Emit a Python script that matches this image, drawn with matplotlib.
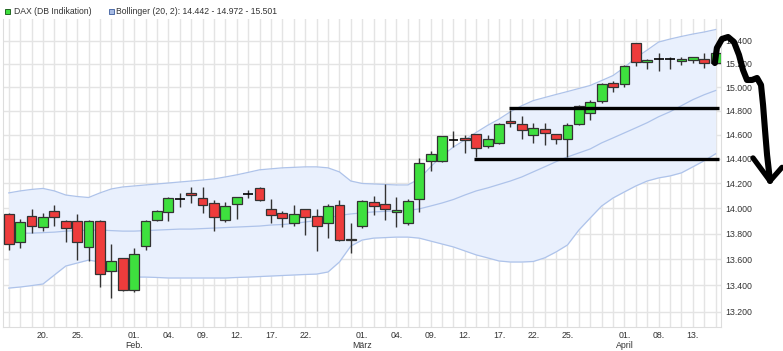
import matplotlib
matplotlib.use("Agg")
import matplotlib.pyplot as plt
import matplotlib.ticker as mticker
from matplotlib.patches import Rectangle
import numpy as np

plt.rcParams['font.family'] = ['Liberation Sans', 'DejaVu Sans']

# daily candles, 15.01. - 15.04.
opens = [13957, 13737, 13943, 13855, 13977, 13900, 13900, 13697, 13900, 13512,
         13607, 13364, 13703, 13908, 13970, 14072, 14125, 14080, 14045, 13908,
         14035, 14115, 14160, 13998, 13966, 13882, 13995, 13940, 13887, 14024,
         13761, 13861, 14048, 14035, 13970, 13884, 14075, 14386, 14386, 14556,
         14569, 14606, 14506, 14529, 14716, 14690, 14594, 14647, 14606, 14565,
         14690, 14782, 14880, 15040, 15027, 15380, 15216, 15242, 15242, 15222,
         15234, 15242, 15205]
highs = [13962, 13913, 13994, 13966, 14027, 13905, 13957, 13905, 13905, 13718,
         13610, 13685, 13905, 13987, 14093, 14120, 14168, 14168, 14064, 14053,
         14095, 14147, 14175, 14072, 13982, 14027, 13998, 13998, 14035, 14067,
         13882, 14067, 14096, 14196, 14093, 14075, 14410, 14467, 14590, 14633,
         14597, 14606, 14600, 14695, 14807, 14756, 14700, 14700, 14606, 14695,
         14849, 14891, 15040, 15053, 15192, 15385, 15242, 15293, 15259, 15259,
         15264, 15299, 15310]
lows = [13672, 13690, 13802, 13821, 13861, 13737, 13594, 13589, 13390, 13305,
        13360, 13351, 13672, 13903, 13903, 14009, 14041, 13962, 13823, 13895,
        13913, 14080, 14059, 13882, 13850, 13861, 13793, 13664, 13768, 13742,
        13646, 13842, 13948, 13908, 13855, 13870, 13974, 14303, 14378, 14495,
        14445, 14414, 14489, 14521, 14660, 14565, 14535, 14514, 14521, 14418,
        14682, 14723, 14869, 14961, 15000, 15184, 15154, 15142, 15154, 15192,
        15205, 15163, 15200]
closes = [13718, 13890, 13863, 13932, 13930, 13842, 13732, 13900, 13484, 13589,
          13364, 13639, 13900, 13979, 14080, 14072, 14107, 14027, 13928, 14019,
          14090, 14115, 14064, 13945, 13922, 13954, 13935, 13861, 14019, 13748,
          13748, 14059, 14019, 13993, 13987, 14061, 14365, 14440, 14585, 14556,
          14556, 14489, 14561, 14690, 14695, 14635, 14655, 14611, 14565, 14677,
          14841, 14875, 15027, 15006, 15184, 15216, 15230, 15242, 15242, 15242,
          15259, 15205, 15293]

# Bollinger (20, 2)
bb_upper = [14124, 14140, 14152, 14160, 14140, 14107, 14095, 14087, 14124, 14156,
            14172, 14180, 14188, 14196, 14204, 14212, 14220, 14228, 14237, 14253,
            14270, 14290, 14311, 14319, 14327, 14331, 14335, 14335, 14327, 14294,
            14220, 14200, 14196, 14192, 14188, 14188, 14237, 14335, 14425, 14498,
            14556, 14619, 14678, 14730, 14792, 14843, 14886, 14912, 14938, 14963,
            14989, 15015, 15057, 15100, 15170, 15254, 15321, 15391, 15417, 15440,
            15461, 15479, 15501]
bb_mid = [13804, 13804, 13804, 13808, 13812, 13820, 13824, 13828, 13828, 13824,
          13820, 13820, 13824, 13828, 13832, 13836, 13836, 13840, 13844, 13848,
          13852, 13856, 13860, 13868, 13872, 13880, 13892, 13904, 13924, 13944,
          13956, 13964, 13972, 13976, 13980, 13984, 13996, 14019, 14043, 14071,
          14107, 14140, 14164, 14192, 14220, 14253, 14294, 14335, 14377, 14416,
          14449, 14482, 14532, 14573, 14615, 14657, 14700, 14750, 14792, 14843,
          14894, 14936, 14972]
bb_lower = [13379, 13387, 13398, 13410, 13479, 13548, 13571, 13594, 13579, 13533,
            13486, 13463, 13463, 13460, 13456, 13456, 13456, 13456, 13456, 13456,
            13460, 13463, 13467, 13471, 13475, 13479, 13483, 13486, 13502, 13579,
            13703, 13750, 13765, 13769, 13773, 13773, 13765, 13742, 13719, 13696,
            13665, 13634, 13611, 13587, 13579, 13579, 13583, 13611, 13657, 13711,
            13828, 13924, 14019, 14083, 14132, 14180, 14220, 14245, 14261, 14286,
            14335, 14385, 14442]

tick_pos = [3, 6, 11, 14, 17, 20, 23, 26, 31, 34, 37, 40, 43, 46, 49, 54, 57, 60]
tick_labels = ['20.', '25.', '01.\nFeb.', '04.', '09.', '12.', '17.', '22.',
               '01.\nMärz', '04.', '09.', '12.', '17.', '22.', '25.',
               '01.\nApril', '08.', '13.']
y_ticks = list(range(13200, 15401, 200))

# drawn-in support / resistance lines and the scribbled arrow
lines_level = [14820, 14400]
lines_start = [43.9, 40.8]
arrow_x = [61.93, 62.11, 62.56, 63.09, 63.61, 64.05, 64.40, 64.75, 65.19, 65.63,
           65.98, 66.16, 66.33, 66.51, 66.77]
arrow_y = [15208, 15339, 15418, 15435, 15391, 15278, 15148, 15062, 15062, 15079,
           15019, 14848, 14639, 14433, 14220]
head_x = [65.28, 66.77, 67.82]
head_y = [14408, 14220, 14331]

UP = '#3ee03e'
DOWN = '#ee3c3c'
EDGE = '#333333'
BAND_FILL = '#e9f0fd'
BAND_LINE = '#aec3ea'
GRID = '#e4e4e4'
TXT = '#333333'

fig = plt.figure(figsize=(7.83, 3.51), dpi=100)
ax = fig.add_axes([3.3 / 783, 1 - 326.7 / 351, (721 - 3.3) / 783, (326.7 - 19) / 351])

x = np.arange(len(opens))
o = np.array(opens, float)
c = np.array(closes, float)
h = np.array(highs, float)
l = np.array(lows, float)

ax.fill_between(x, bb_lower, bb_upper, color=BAND_FILL, zorder=1, lw=0)
for band in (bb_upper, bb_mid, bb_lower):
    ax.plot(x, band, color=BAND_LINE, lw=0.9, zorder=2)

doji = np.abs(c - o) < 2
up = (c > o) & ~doji
down = (c < o) & ~doji

ax.vlines(x, l, h, color=EDGE, lw=1.0, zorder=3)
w = 0.86
ax.bar(x[up], (c - o)[up], bottom=o[up], width=w, color=UP, edgecolor=EDGE, lw=0.9, zorder=4)
ax.bar(x[down], (o - c)[down], bottom=c[down], width=w, color=DOWN, edgecolor=EDGE, lw=0.9, zorder=4)
ax.hlines(o[doji], x[doji] - w / 2, x[doji] + w / 2, color='black', lw=1.2, zorder=4)

for lev, st in zip(lines_level, lines_start):
    ax.hlines(lev, st, 62.3, color='black', lw=2.4, zorder=5)

ax.plot(arrow_x, arrow_y, color='black', lw=4.4, solid_capstyle='round',
        solid_joinstyle='round', clip_on=False, zorder=6)
ax.plot(head_x, head_y, color='black', lw=3.8, solid_capstyle='round',
        solid_joinstyle='round', clip_on=False, zorder=6)

ax.set_yscale('log')
ax.set_xlim(-0.48, 62.47)
ax.set_ylim(13088, 15594)
ax.yaxis.set_major_locator(mticker.FixedLocator(y_ticks))
ax.yaxis.set_minor_locator(mticker.NullLocator())
ax.yaxis.set_major_formatter(mticker.FuncFormatter(lambda v, p: f"{int(round(v)):,}".replace(',', '.')))
ax.yaxis.tick_right()
ax.set_xticks(tick_pos)
ax.set_xticklabels(tick_labels)
ax.set_xticks(x, minor=True)
ax.tick_params(axis='both', which='both', length=0, labelsize=6.3, colors=TXT)
ax.tick_params(axis='y', pad=3)
ax.tick_params(axis='x', pad=3)
ax.grid(True, which='both', color=GRID, lw=1.0, zorder=0)
ax.set_axisbelow(True)
for s in ('left', 'right', 'bottom'):
    ax.spines[s].set_color('#dddddd')
ax.spines['top'].set_visible(False)

# legend
fig.patches.append(Rectangle((4.5 / 783, 1 - 13.6 / 351), 5 / 783, 5 / 351,
                             transform=fig.transFigure, facecolor=UP, edgecolor='#226622', lw=0.7))
fig.text(14 / 783, 1 - 11 / 351, 'DAX (DB Indikation)', fontsize=6.2, color=TXT, va='center')
fig.patches.append(Rectangle((108.8 / 783, 1 - 13.6 / 351), 5 / 783, 5 / 351,
                             transform=fig.transFigure, facecolor='#a8bce4', edgecolor='#4f6da8', lw=0.7))
fig.text(115.5 / 783, 1 - 11 / 351, 'Bollinger (20, 2): 14.442 - 14.972 - 15.501',
         fontsize=6.2, color=TXT, va='center')

fig.savefig('out.png', dpi=100)
